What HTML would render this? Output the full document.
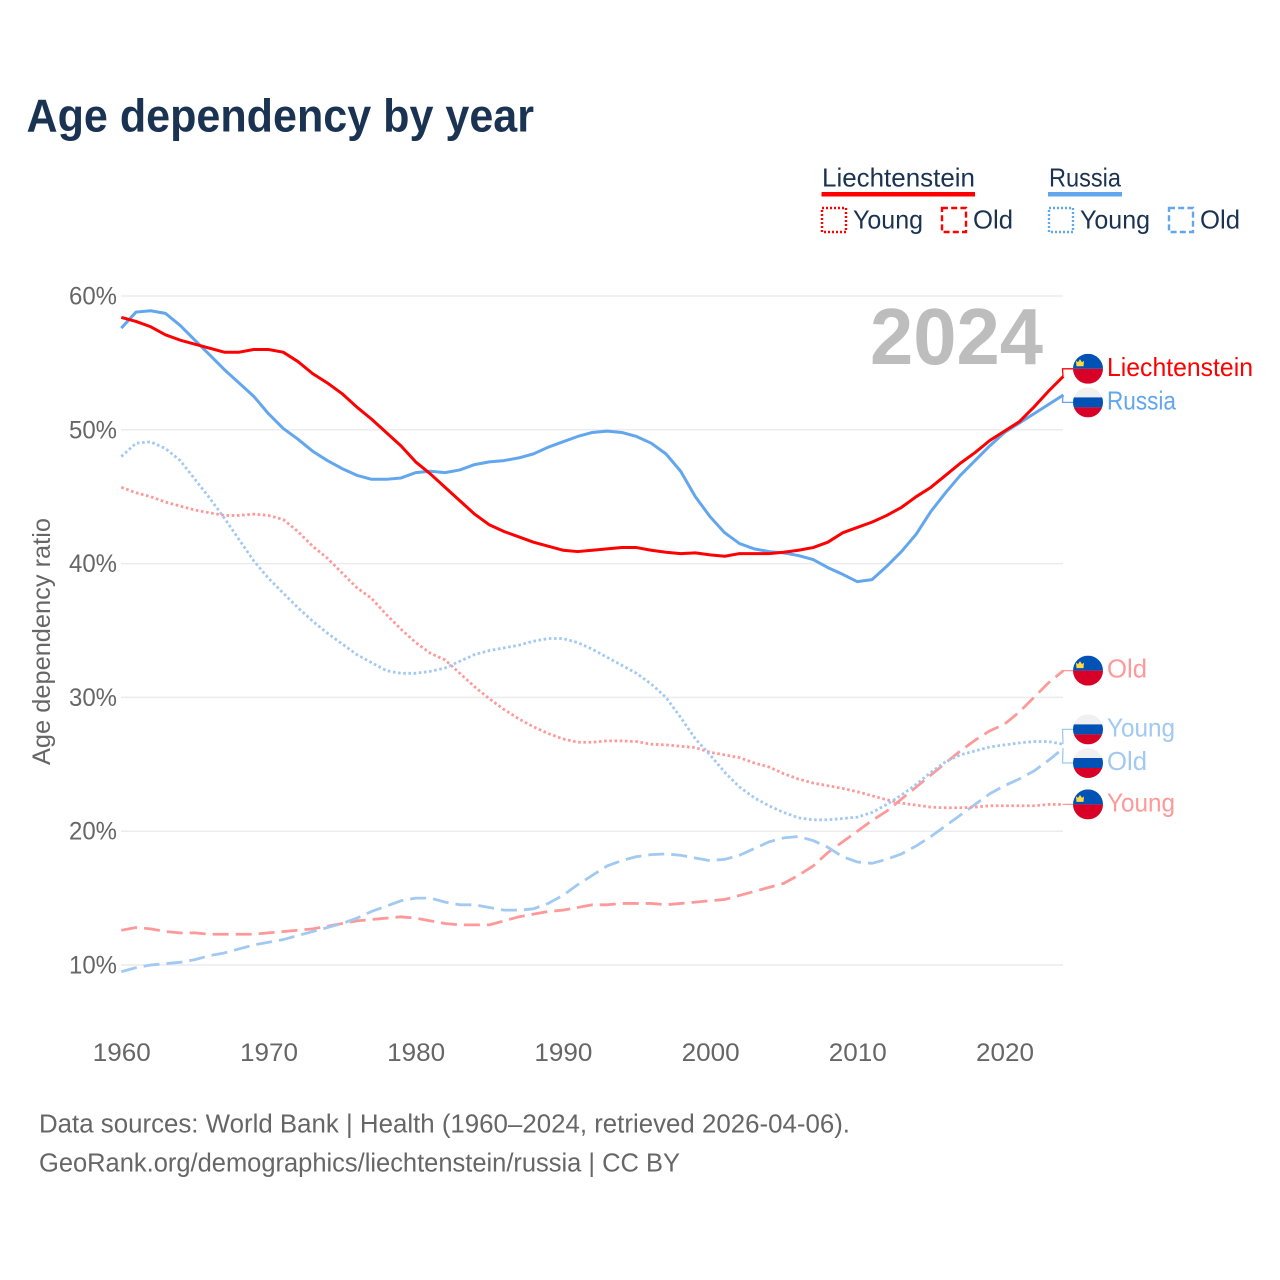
<!DOCTYPE html>
<html lang="en">
<head>
<meta charset="utf-8">
<title>Age dependency by year</title>
<style>
html,body{margin:0;padding:0;background:#fff;}
svg{display:block;font-family:"Liberation Sans",sans-serif;}
</style>
</head>
<body>
<svg id="chart" xmlns="http://www.w3.org/2000/svg" width="1280" height="1280" viewBox="0 0 1280 1280">
  <defs>
    <clipPath id="flag-clip"><circle cx="0" cy="0" r="15"/></clipPath>
  </defs>
  <rect x="0" y="0" width="1280" height="1280" fill="#ffffff"/>
  <text x="26.5" y="131.5" font-size="46" font-weight="700" fill="#1a3352" textLength="507.5" lengthAdjust="spacingAndGlyphs">Age dependency by year</text>

  <g>
    <text x="822" y="186.5" font-size="26" fill="#1a3352" textLength="153" lengthAdjust="spacingAndGlyphs">Liechtenstein</text>
    <rect x="821.5" y="192" width="153.5" height="4.5" fill="#ff0000"/>
    <rect x="822" y="208" width="24" height="24" fill="none" stroke="#ff0000" stroke-width="2.4" stroke-dasharray="2 2"/>
    <text x="853" y="228.5" font-size="26" fill="#1a3352" textLength="70" lengthAdjust="spacingAndGlyphs">Young</text>
    <rect x="942" y="208" width="24" height="24" fill="none" stroke="#ff0000" stroke-width="2.4" stroke-dasharray="6 3.2"/>
    <text x="973" y="228.5" font-size="26" fill="#1a3352" textLength="40" lengthAdjust="spacingAndGlyphs">Old</text>

    <text x="1049" y="186.5" font-size="26" fill="#1a3352" textLength="72" lengthAdjust="spacingAndGlyphs">Russia</text>
    <rect x="1048" y="192" width="74" height="4.5" fill="#62a6ee"/>
    <rect x="1049" y="208" width="24" height="24" fill="none" stroke="#62a6ee" stroke-width="2.4" stroke-dasharray="2 2"/>
    <text x="1080" y="228.5" font-size="26" fill="#1a3352" textLength="70" lengthAdjust="spacingAndGlyphs">Young</text>
    <rect x="1169" y="208" width="24" height="24" fill="none" stroke="#62a6ee" stroke-width="2.4" stroke-dasharray="6 3.2"/>
    <text x="1200" y="228.5" font-size="26" fill="#1a3352" textLength="40" lengthAdjust="spacingAndGlyphs">Old</text>
  </g>

  <g id="grid"></g>
  <g id="yticks"></g>
  <g id="xticks"></g>
  <text transform="translate(50,641.5) rotate(-90)" text-anchor="middle" font-size="25" fill="#666666" textLength="247" lengthAdjust="spacingAndGlyphs">Age dependency ratio</text>
  <text x="870" y="364" font-size="80" font-weight="700" fill="#bdbdbd" textLength="173" lengthAdjust="spacingAndGlyphs">2024</text>
  <g id="series"></g>
  <g id="labels"></g>

  <text x="39" y="1132.5" font-size="25.5" fill="#666666" textLength="811" lengthAdjust="spacingAndGlyphs">Data sources: World Bank | Health (1960–2024, retrieved 2026-04-06).</text>
  <text x="39" y="1171.5" font-size="25.5" fill="#666666" textLength="641" lengthAdjust="spacingAndGlyphs">GeoRank.org/demographics/liechtenstein/russia | CC BY</text>
</svg>
<script>
const firstYear = 1960;
const lastYear = 2024;
const yTickValues = [10, 20, 30, 40, 50, 60];
const xTickValues = [1960, 1970, 1980, 1990, 2000, 2010, 2020];

const liechtensteinTotal = [58.4,58.1,57.7,57.1,56.7,56.4,56.1,55.8,55.8,56.0,56.0,55.8,55.1,54.2,53.5,52.7,51.7,50.8,49.8,48.8,47.6,46.7,45.7,44.7,43.7,42.9,42.4,42.0,41.6,41.3,41.0,40.9,41.0,41.1,41.2,41.2,41.0,40.85,40.75,40.8,40.65,40.55,40.75,40.75,40.75,40.85,41.0,41.2,41.6,42.3,42.7,43.1,43.6,44.2,45.0,45.7,46.6,47.5,48.3,49.2,49.9,50.6,51.7,52.9,54.0];
const russiaTotal = [57.6,58.8,58.9,58.7,57.8,56.7,55.6,54.5,53.5,52.5,51.2,50.1,49.3,48.4,47.7,47.1,46.6,46.3,46.3,46.4,46.8,46.9,46.8,47.0,47.4,47.6,47.7,47.9,48.2,48.7,49.1,49.5,49.8,49.9,49.8,49.5,49.0,48.2,46.9,45.0,43.5,42.3,41.5,41.1,40.9,40.8,40.6,40.3,39.7,39.2,38.65,38.8,39.8,40.9,42.2,43.9,45.3,46.6,47.7,48.8,49.8,50.5,51.2,51.9,52.6];
const russiaYoung = [48.0,49.0,49.1,48.6,47.7,46.3,44.9,43.4,41.8,40.2,38.9,37.8,36.7,35.7,34.8,34.0,33.2,32.6,32.0,31.8,31.8,31.95,32.2,32.7,33.2,33.5,33.7,33.9,34.2,34.4,34.4,34.1,33.6,33.0,32.4,31.8,31.0,30.0,28.5,26.9,25.7,24.4,23.3,22.5,21.9,21.4,21.0,20.85,20.85,20.95,21.05,21.4,22.0,22.7,23.5,24.4,25.2,25.7,26.0,26.3,26.45,26.6,26.7,26.7,26.5];
const liechtensteinYoung = [45.7,45.3,45.0,44.6,44.3,44.0,43.8,43.6,43.6,43.7,43.6,43.3,42.4,41.3,40.4,39.3,38.2,37.4,36.2,35.1,34.1,33.3,32.8,31.8,30.8,29.9,29.1,28.4,27.8,27.3,26.9,26.65,26.65,26.75,26.75,26.7,26.5,26.45,26.35,26.25,25.9,25.7,25.5,25.1,24.8,24.3,23.9,23.6,23.4,23.2,22.95,22.65,22.35,22.1,21.95,21.8,21.75,21.75,21.8,21.9,21.9,21.9,21.9,22.0,22.0];
const liechtensteinOld = [12.6,12.8,12.7,12.5,12.4,12.4,12.3,12.3,12.3,12.3,12.4,12.5,12.6,12.7,12.9,13.1,13.3,13.4,13.5,13.6,13.5,13.3,13.1,13.0,13.0,13.0,13.3,13.6,13.8,14.0,14.1,14.3,14.5,14.5,14.6,14.6,14.6,14.5,14.6,14.7,14.8,14.9,15.2,15.5,15.8,16.1,16.7,17.4,18.4,19.2,20.0,20.8,21.5,22.4,23.3,24.2,25.1,26.0,26.8,27.5,28.0,28.9,30.0,31.1,32.0];
const russiaOld = [9.5,9.8,10.0,10.1,10.2,10.4,10.7,10.9,11.2,11.5,11.7,11.9,12.2,12.5,12.8,13.1,13.5,14.0,14.4,14.8,15.0,15.0,14.7,14.5,14.5,14.3,14.1,14.1,14.2,14.6,15.2,16.0,16.7,17.4,17.8,18.1,18.25,18.3,18.2,18.0,17.8,17.9,18.2,18.7,19.2,19.5,19.6,19.3,18.8,18.1,17.7,17.6,17.9,18.3,18.9,19.6,20.4,21.2,22.0,22.8,23.4,23.9,24.5,25.3,26.2];

const seriesList = [
  {name:'liechtenstein-old', label:'Old', flag:'li', values:liechtensteinOld, color:'#ff9999', kind:'dashed'},
  {name:'russia-old', label:'Old', flag:'ru', values:russiaOld, color:'#a1c9f1', kind:'dashed'},
  {name:'liechtenstein-young', label:'Young', flag:'li', values:liechtensteinYoung, color:'#ff9999', kind:'dotted'},
  {name:'russia-young', label:'Young', flag:'ru', values:russiaYoung, color:'#a1c9f1', kind:'dotted'},
  {name:'russia-total', label:'Russia', flag:'ru', values:russiaTotal, color:'#62a6ee', kind:'solid'},
  {name:'liechtenstein-total', label:'Liechtenstein', flag:'li', values:liechtensteinTotal, color:'#ff0000', kind:'solid'}
];

const NS = 'http://www.w3.org/2000/svg';
function make(tag, attrs, parent){
  const el = document.createElementNS(NS, tag);
  for (const k in attrs) el.setAttribute(k, attrs[k]);
  parent.appendChild(el);
  return el;
}
function xScale(year){ return 121.3 + (year - 1960) * 14.72; }
function yScale(v){ return 965 - (v - 10) * 13.38; }

const gridG = document.getElementById('grid');
const yG = document.getElementById('yticks');
yTickValues.forEach(function(t){
  const line = make('line', {x1:121, x2:1063, y1:yScale(t), y2:yScale(t), stroke:'#ececec', 'stroke-width':1.5}, gridG);
  
  
  const tx = make('text', {x:117, y:yScale(t)+8.5, 'text-anchor':'end', 'font-size':25, fill:'#666666', textLength:48, lengthAdjust:'spacingAndGlyphs'}, yG);
  tx.textContent = t + '%';
  
  
});
const xG = document.getElementById('xticks');
xTickValues.forEach(function(t){
  const tx = make('text', {x:xScale(t)+0.5, y:1061, 'text-anchor':'middle', 'font-size':25, fill:'#666666', textLength:58, lengthAdjust:'spacingAndGlyphs'}, xG);
  tx.textContent = String(t);
  
  
});

const seriesG = document.getElementById('series');
const dashFor = {solid:'none', dashed:'16 7', dotted:'2.6 2.6'};
const widthFor = {solid:3, dashed:2.8, dotted:2.8};
seriesList.forEach(function(s){
  const d = s.values.map(function(v, i){
    return (i ? 'L' : 'M') + xScale(firstYear + i).toFixed(2) + ',' + yScale(v).toFixed(2);
  }).join('');
  const p = make('path', {d:d, fill:'none', stroke:s.color, 'stroke-width':widthFor[s.kind], 'stroke-dasharray':dashFor[s.kind], 'stroke-linejoin':'round'}, seriesG);
  
  
});

/* end labels: start at each series' end value, then spread apart when they collide */
const labelGap = 33.6;
const labelWidths = {'Liechtenstein':146, 'Russia':69, 'Young':68, 'Old':40};
const placed = seriesList.map(function(s){
  const end = yScale(s.values[s.values.length - 1]);
  return {s:s, end:end, y:end};
}).sort(function(a, b){ return a.end - b.end; });
for (let i = 0; i < placed.length - 1; i++) {
  const a = placed[i], b = placed[i + 1];
  if (b.y - a.y < labelGap) {
    const mid = (a.end + b.end) / 2;
    a.y = mid - labelGap / 2;
    b.y = mid + labelGap / 2;
  }
}
const labelsG = document.getElementById('labels');
placed.forEach(function(p){
  const s = p.s;
  const conn = make('path', {d:'M1063,' + p.end.toFixed(1) + 'L1062.5,' + p.y.toFixed(1) + 'L1073,' + p.y.toFixed(1), fill:'none', stroke:s.color, 'stroke-width':1.3}, labelsG);
  
  
  const g = make('g', {transform:'translate(1088,' + p.y.toFixed(1) + ')'}, labelsG);
  
  
  const inner = make('g', {'clip-path':'url(#flag-clip)'}, g);
  if (s.flag === 'li') {
    make('rect', {x:-15, y:-15, width:30, height:15, fill:'#0052b4'}, inner);
    make('rect', {x:-15, y:0, width:30, height:15, fill:'#d80027'}, inner);
    make('path', {d:'M-12,-8L-10,-6.5L-8,-9.5L-6,-6.5L-4,-8L-4.5,-2.5L-11.5,-2.5Z', fill:'#ffda44'}, inner);
  } else {
    make('rect', {x:-15, y:-15, width:30, height:10, fill:'#f0f0f0'}, inner);
    make('rect', {x:-15, y:-5, width:30, height:10, fill:'#0052b4'}, inner);
    make('rect', {x:-15, y:5, width:30, height:10, fill:'#d80027'}, inner);
  }
  const tx = make('text', {x:1107, y:p.y + 7, 'font-size':26, fill:s.color, textLength:labelWidths[s.label], lengthAdjust:'spacingAndGlyphs'}, labelsG);
  tx.textContent = s.label;
  
  
});
</script>
</body>
</html>
